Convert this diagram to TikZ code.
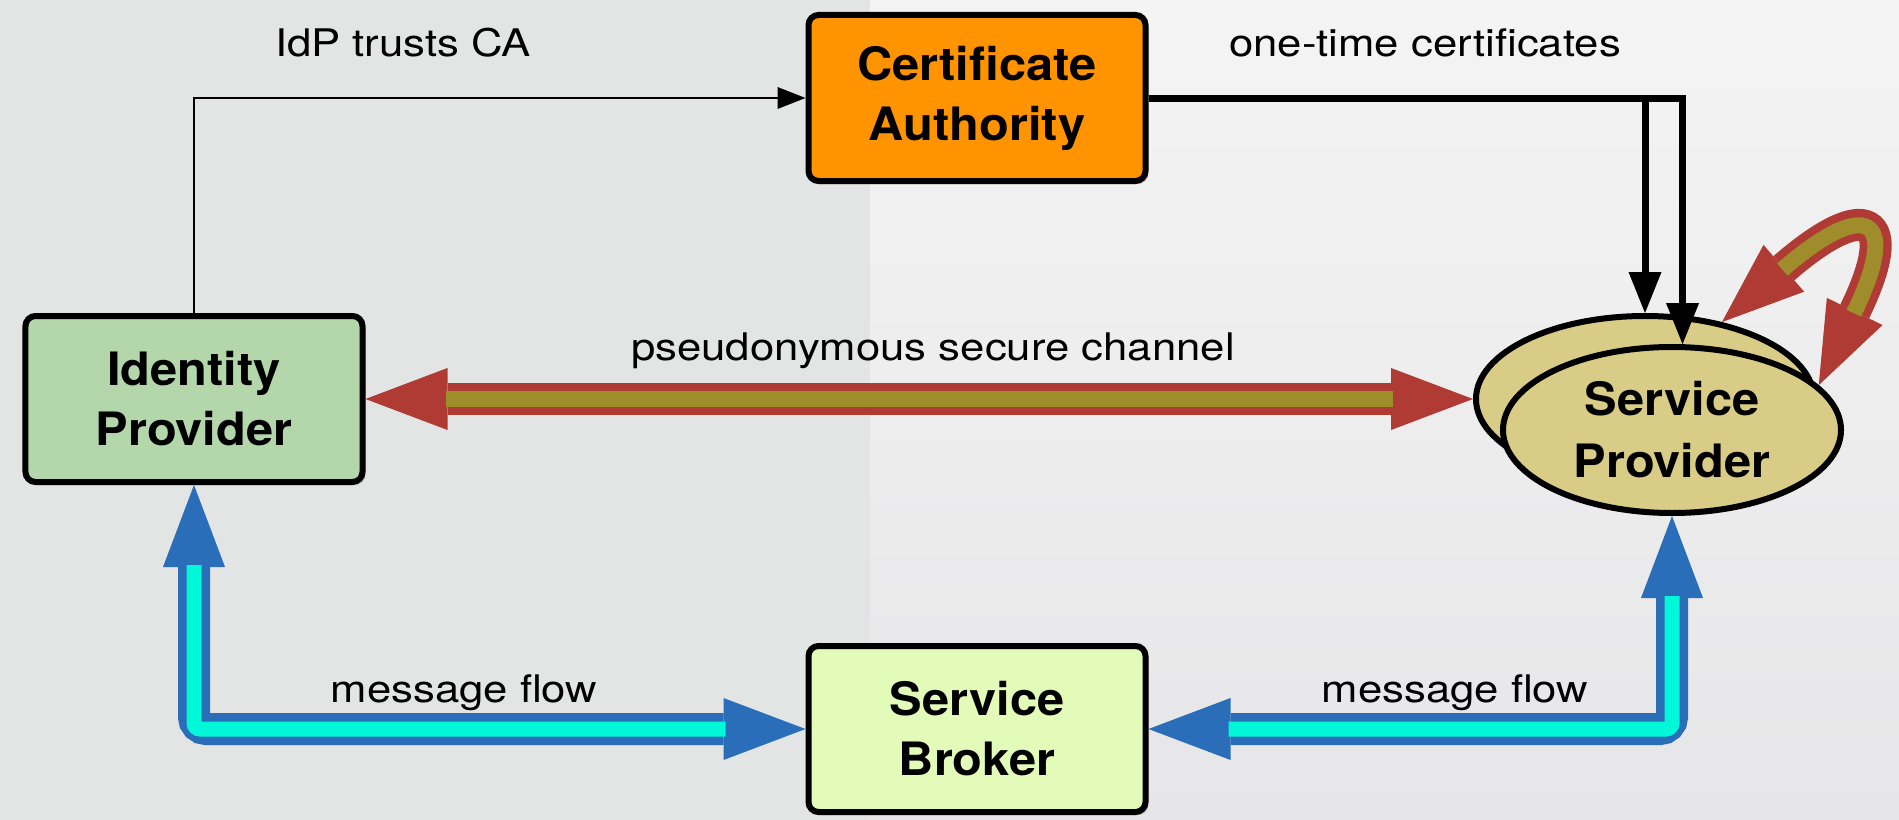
\documentclass[tikz,border=0pt]{standalone}
\usepackage{fontspec}
\setmainfont{TeX Gyre Heros}
\newfontfamily\lblfont[FakeStretch=1.15]{TeX Gyre Heros}
\newfontfamily\boxfont[FakeStretch=1.06]{TeX Gyre Heros}
\usetikzlibrary{arrows.meta,shapes.geometric,shadows,calc}
\definecolor{idpgreen}{HTML}{B3D6AB}
\definecolor{caorange}{HTML}{FF9400}
\definecolor{sbgreen}{HTML}{E2FBB8}
\definecolor{spkhaki}{HTML}{D9CC87}
\definecolor{chred}{HTML}{B03A34}
\definecolor{cholive}{HTML}{9F8D2B}
\definecolor{flowblue}{HTML}{2A6DB8}
\definecolor{flowcyan}{HTML}{00F8D8}
\definecolor{bgleft}{HTML}{E3E4E4}
\definecolor{bgtop}{HTML}{F4F4F4}
\definecolor{bgbot}{HTML}{E6E6E8}
\tikzset{
  boxnode/.style={draw=black, line width=6bp, rounded corners=10bp,
    minimum width=337bp, minimum height=166bp, inner sep=0pt, align=center,
    font={\boxfont\bfseries\fontsize{46bp}{60bp}\selectfont},
    drop shadow={shadow xshift=3bp, shadow yshift=-3bp, opacity=0.3}},
  spnode/.style={ellipse, draw=black, line width=6bp, fill=spkhaki,
    minimum width=338bp, minimum height=166bp, inner sep=0pt, align=center,
    font={\boxfont\bfseries\fontsize{46bp}{62bp}\selectfont}},
  lbl/.style={inner sep=0pt, anchor=base, font={\lblfont\fontsize{38bp}{44bp}\selectfont}},
  chanout/.style={draw=chred, line width=32bp,
    arrows={Triangle[length=82bp,width=62bp,line width=0pt]-Triangle[length=82bp,width=62bp,line width=0pt]}},
  chanin/.style={draw=cholive, line width=16bp, shorten <=80bp, shorten >=80bp},
  flowout/.style={draw=flowblue, line width=32bp, rounded corners=12bp,
    arrows={Triangle[length=82bp,width=62bp,line width=0pt]-Triangle[length=82bp,width=62bp,line width=0pt]}},
  flowin/.style={draw=flowcyan, line width=15bp, rounded corners=6bp, shorten <=80bp, shorten >=80bp},
  certline/.style={draw=black, line width=7bp,
    arrows={-Triangle[length=41bp,width=33bp,line width=0pt]}},
  thinline/.style={draw=black, line width=2.5bp,
    arrows={-Triangle[length=28bp,width=22bp,line width=0pt]}},
}
\begin{document}
\begin{tikzpicture}[x=1bp,y=-1bp]
\useasboundingbox (0,0) rectangle (1899,820);
% background
\shade[top color=bgtop, bottom color=bgbot] (0,0) rectangle (1899,820);
\fill[bgleft] (0,0) rectangle (870,820);

% nodes
\node[boxnode, fill=idpgreen] (idp) at (194,399) {Identity\\Provider};
\node[boxnode, fill=caorange] (ca) at (977,98) {Certificate\\Authority};
\node[boxnode, fill=sbgreen] (sb) at (977,729) {Service\\Broker};
\node[spnode] (sp1) at (1645,399) {};
\node[spnode] (sp2) at (1672,430) {Service\\Provider};

% labels
\node[lbl] (lidp) at (403,57) {IdP trusts CA};
\node[lbl] (lcert) at (1425,57) {one-time certificates};
\node[lbl] (lchan) at (933,360) {pseudonymous secure channel};
\node[lbl] (lflow1) at (464,702) {message flow};
\node[lbl] (lflow2) at (1455,702) {message flow};

% IdP trusts CA
\draw[thinline] (idp.north) |- (ca.west);

% one-time certificates
\draw[certline] (ca.east) -| (sp1.north);
\draw[certline] (ca.east) -| (sp2.83);

% pseudonymous secure channel
\draw[chanout] (idp.east) -- (sp1.west);
\draw[chanin] (idp.east) -- (sp1.west);

% self loop
\draw[chanout] (sp1.45) .. controls +(-41:190) and +(-64:190) .. (sp2.17);
\draw[chanin] (sp1.45) .. controls +(-41:190) and +(-64:190) .. (sp2.17);

% message flows
\draw[flowout] (sb.west) -| (idp.south);
\draw[flowin] (sb.west) -| (idp.south);
\draw[flowout] (sb.east) -| (sp2.south);
\draw[flowin] (sb.east) -| (sp2.south);
\end{tikzpicture}
\end{document}
